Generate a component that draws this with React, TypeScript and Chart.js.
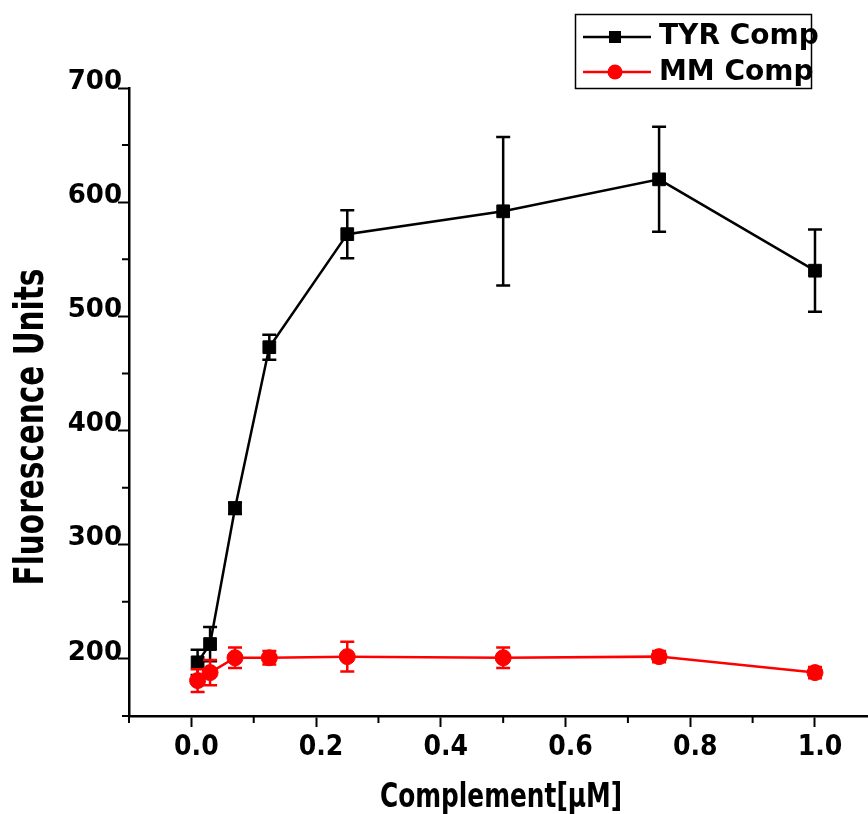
import { useEffect, useRef } from 'react';
import { Chart, registerables } from 'chart.js';

Chart.register(...registerables);

const concentrations = [0.01, 0.03, 0.07, 0.125, 0.25, 0.5, 0.75, 1.0];
const tyrValues = [197, 213, 332, 473, 572, 592, 620, 540];
const tyrErrors = [11, 15, 5, 11, 21, 65, 46, 36];
const mmValues = [181, 188, 201, 201, 202, 201, 202, 188];
const mmErrors = [10, 11, 9, 6, 13, 9, 5, 5];
const xTickValues = [0, 0.2, 0.4, 0.6, 0.8, 1.0];
const xMinorTicks = [-0.1, 0.1, 0.3, 0.5, 0.7, 0.9];
const yTickValues = [200, 300, 400, 500, 600, 700];
const yMinorTicks = [150, 250, 350, 450, 550, 650];
const seriesNames = ['TYR Comp', 'MM Comp'];
const seriesColors = ['#000000', '#ff0000'];
const xTitle = 'Complement[µM]';
const yTitle = 'Fluorescence Units';

const FONT = "'DejaVu Sans', sans-serif";
const CFONT = "'DejaVu Sans Condensed', 'DejaVu Sans', sans-serif";

function scaledText(ctx: CanvasRenderingContext2D, text: string, x: number, y: number, font: string, sx: number, rotate: boolean, align: CanvasTextAlign) {
  ctx.save();
  ctx.translate(x, y);
  if (rotate) ctx.rotate(-Math.PI / 2);
  ctx.scale(sx, 1);
  ctx.font = font;
  ctx.fillStyle = '#000';
  ctx.textAlign = align;
  ctx.textBaseline = 'alphabetic';
  ctx.fillText(text, 0, 0);
  ctx.restore();
}

const errorBarPlugin = {
  id: 'errorBars',
  beforeDatasetDraw(chart: any, args: any) {
    const ds = chart.data.datasets[args.index];
    const errs: number[] = ds.errors;
    if (!errs) return;
    const xs = chart.scales.x;
    const ys = chart.scales.y;
    const ctx = chart.ctx;
    ctx.save();
    ctx.strokeStyle = ds.borderColor;
    ctx.lineWidth = 2.5;
    ds.data.forEach((p: any, i: number) => {
      const px = xs.getPixelForValue(p.x);
      const top = ys.getPixelForValue(p.y + errs[i]);
      const bot = ys.getPixelForValue(p.y - errs[i]);
      ctx.beginPath();
      ctx.moveTo(px, top);
      ctx.lineTo(px, bot);
      ctx.moveTo(px - 7, top);
      ctx.lineTo(px + 7, top);
      ctx.moveTo(px - 7, bot);
      ctx.lineTo(px + 7, bot);
      ctx.stroke();
    });
    ctx.restore();
  },
};

const decorPlugin = {
  id: 'decor',
  afterDraw(chart: any) {
    const ctx: CanvasRenderingContext2D = chart.ctx;
    const xs = chart.scales.x;
    const ys = chart.scales.y;
    const area = chart.chartArea;
    ctx.save();
    ctx.strokeStyle = '#000';
    ctx.lineWidth = 2;
    ctx.beginPath();
    xMinorTicks.forEach((v) => {
      const px = xs.getPixelForValue(v);
      ctx.moveTo(px, area.bottom);
      ctx.lineTo(px, area.bottom + 7);
    });
    yMinorTicks.forEach((v) => {
      const py = ys.getPixelForValue(v);
      ctx.moveTo(area.left, py);
      ctx.lineTo(area.left - 7, py);
    });
    ctx.stroke();

    // axis titles
    scaledText(ctx, xTitle, 501, 807, `bold 34px ${FONT}`, 0.73, false, 'center');
    scaledText(ctx, yTitle, 43, 427, `bold 41px ${FONT}`, 0.72, true, 'center');

    // legend
    ctx.lineWidth = 1.5;
    ctx.strokeStyle = '#000';
    ctx.strokeRect(575.5, 14.5, 236, 74);
    const rows = [37, 72];
    const baselines = [44, 80];
    seriesNames.forEach((name, i) => {
      const y = rows[i];
      ctx.strokeStyle = seriesColors[i];
      ctx.fillStyle = seriesColors[i];
      ctx.lineWidth = 2.5;
      ctx.beginPath();
      ctx.moveTo(583, y);
      ctx.lineTo(651, y);
      ctx.stroke();
      if (i === 0) {
        ctx.fillRect(615 - 6, y - 6, 12, 12);
      } else {
        ctx.beginPath();
        ctx.arc(615, y, 7.5, 0, Math.PI * 2);
        ctx.fill();
      }
      scaledText(ctx, name, 659, baselines[i], `bold 28px ${FONT}`, 1, false, 'left');
    });
    ctx.restore();
  },
};

export default function App() {
  const ref = useRef<HTMLCanvasElement | null>(null);
  useEffect(() => {
    document.body.style.margin = '0';
    const canvas = ref.current;
    if (!canvas) return;
    const chart = new Chart(canvas, {
      type: 'line',
      data: {
        datasets: [
          {
            label: seriesNames[0],
            data: concentrations.map((x, i) => ({ x, y: tyrValues[i] })),
            errors: tyrErrors,
            borderColor: seriesColors[0],
            backgroundColor: seriesColors[0],
            borderWidth: 2.5,
            pointStyle: 'rect',
            pointRadius: 9,
            pointBorderWidth: 1,
            tension: 0,
            order: 1,
          } as any,
          {
            label: seriesNames[1],
            data: concentrations.map((x, i) => ({ x, y: mmValues[i] })),
            errors: mmErrors,
            borderColor: seriesColors[1],
            backgroundColor: seriesColors[1],
            borderWidth: 2.5,
            pointStyle: 'circle',
            pointRadius: 8,
            pointBorderWidth: 1,
            tension: 0,
            order: 0,
          } as any,
        ],
      },
      options: {
        responsive: false,
        animation: false,
        layout: { autoPadding: false, padding: { top: 88, left: 0, right: 0, bottom: 0 } },
        plugins: { legend: { display: false }, tooltip: { enabled: false } },
        scales: {
          x: {
            type: 'linear',
            min: -0.1,
            max: 1.085,
            afterBuildTicks: (s: any) => {
              s.ticks = xTickValues.map((v) => ({ value: v }));
            },
            afterFit: (s: any) => {
              s.height = 98;
              s.paddingLeft = 0;
              s.paddingRight = 0;
            },
            ticks: {
              callback: (v: any) => Number(v).toFixed(1),
              font: { family: CFONT, size: 28, weight: 'bold' },
              color: '#000',
              padding: 4,
              labelOffset: 5,
              maxRotation: 0,
              autoSkip: false,
            },
            grid: { display: true, drawOnChartArea: false, drawTicks: true, tickLength: 11, tickWidth: 2, tickColor: '#000' },
            border: { display: true, color: '#000', width: 2.5 },
          },
          y: {
            type: 'linear',
            min: 150,
            max: 700,
            afterBuildTicks: (s: any) => {
              s.ticks = yTickValues.map((v) => ({ value: v }));
            },
            afterFit: (s: any) => {
              s.width = 129;
              s.paddingTop = 0;
              s.paddingBottom = 0;
            },
            ticks: {
              callback: (v: any) => String(v),
              font: { family: FONT, size: 26, weight: 'bold' },
              color: '#000',
              padding: -4,
              labelOffset: -6,
              autoSkip: false,
            },
            grid: { display: true, drawOnChartArea: false, drawTicks: true, tickLength: 11, tickWidth: 2, tickColor: '#000' },
            border: { display: true, color: '#000', width: 2.5 },
          },
        },
      },
      plugins: [errorBarPlugin, decorPlugin],
    });
    return () => chart.destroy();
  }, []);
  return (
    <div style={{ width: 868, height: 814, position: 'relative', background: '#fff' }}>
      <canvas ref={ref} width={868} height={814} style={{ display: 'block' }} />
    </div>
  );
}
